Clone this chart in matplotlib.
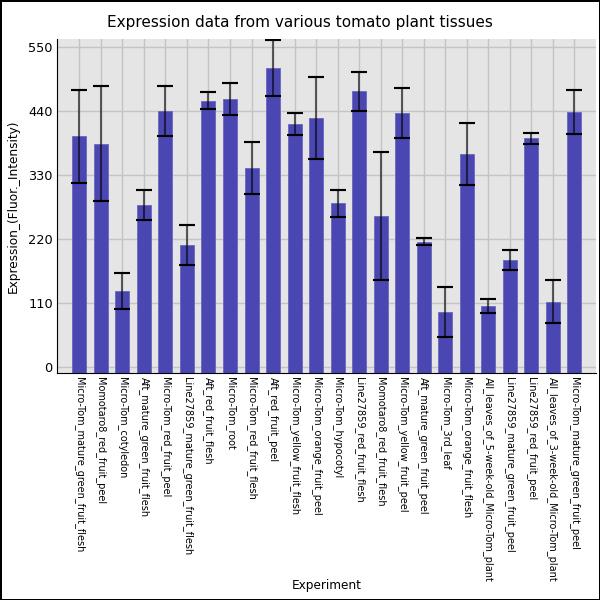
import matplotlib
matplotlib.use("Agg")
import matplotlib.pyplot as plt
import numpy as np

experiments = [
    "Micro-Tom_mature_green_fruit_flesh",
    "Momotaro8_red_fruit_peel",
    "Micro-Tom_cotyledon",
    "Aft_mature_green_fruit_flesh",
    "Micro-Tom_red_fruit_peel",
    "Line27859_mature_green_fruit_flesh",
    "Aft_red_fruit_flesh",
    "Micro-Tom_root",
    "Micro-Tom_red_fruit_flesh",
    "Aft_red_fruit_peel",
    "Micro-Tom_yellow_fruit_flesh",
    "Micro-Tom_orange_fruit_peel",
    "Micro-Tom_hypocotyl",
    "Line27859_red_fruit_flesh",
    "Momotaro8_red_fruit_flesh",
    "Micro-Tom_yellow_fruit_peel",
    "Aft_mature_green_fruit_peel",
    "Micro-Tom_3rd_leaf",
    "Micro-Tom_orange_fruit_flesh",
    "All_leaves_of_5-week-old_Micro-Tom_plant",
    "Line27859_mature_green_fruit_peel",
    "Line27859_red_fruit_peel",
    "All_leaves_of_3-week-old_Micro-Tom_plant",
    "Micro-Tom_mature_green_fruit_peel",
]
expression = [397, 384, 130, 279, 440, 210, 458, 461, 342, 514, 417, 428,
              281, 474, 260, 436, 215, 94, 366, 105, 184, 393, 112, 439]
errors = [80, 99, 31, 26, 43, 34, 14, 28, 44, 48, 19, 71,
          24, 34, 110, 43, 6, 43, 54, 12, 17, 9, 37, 38]
yticks = [0, 110, 220, 330, 440, 550]

fig = plt.figure(figsize=(6, 6), dpi=100)
fig.patch.set_edgecolor("black")
fig.patch.set_linewidth(2)
ax = fig.add_axes([0.095, 0.378, 0.898, 0.557])
ax.set_facecolor("#e5e5e5")

x = np.arange(len(experiments))
ymin, ymax = -11, 564
vals = np.array(expression)
ax.bar(x, vals - ymin, bottom=ymin, width=0.65, color="#4b47b2",
       edgecolor="#6a67c0", linewidth=0.6, zorder=2)
ax.errorbar(x, vals, yerr=errors, fmt="none", ecolor=(0, 0, 0, 0.6),
            elinewidth=1.5, capsize=6, capthick=1.5, zorder=3)
# caps fully black
eb = ax.errorbar(x, vals, yerr=errors, fmt="none", ecolor="none",
                 capsize=6, capthick=1.5, zorder=4)
for cap in eb[1]:
    cap.set_markeredgecolor("black")

ax.set_xlim(-1.04, 24.0)
ax.set_ylim(ymin, ymax)
ax.set_yticks(yticks)
ax.set_xticks(x)
ax.set_xticklabels(experiments, rotation=270, fontsize=7)
ax.tick_params(axis="both", length=0, pad=3)
ax.tick_params(axis="y", labelsize=9.3)
ax.grid(True, color="#c4c4c4", linewidth=1.0, zorder=0)
ax.set_axisbelow(True)
for s in ["top", "right"]:
    ax.spines[s].set_visible(False)
ax.spines["left"].set_color("black")
ax.spines["bottom"].set_color("black")

ax.set_ylabel("Expression_(Fluor._Intensity)", fontsize=8.7)
ax.yaxis.set_label_coords(-0.07, 0.5)
ax.set_xlabel("Experiment", fontsize=8.7)
ax.xaxis.set_label_coords(0.5, -0.615)
fig.suptitle("Expression data from various tomato plant tissues", fontsize=11, y=0.975)

fig.savefig("out.png", dpi=100, edgecolor=fig.get_edgecolor())
